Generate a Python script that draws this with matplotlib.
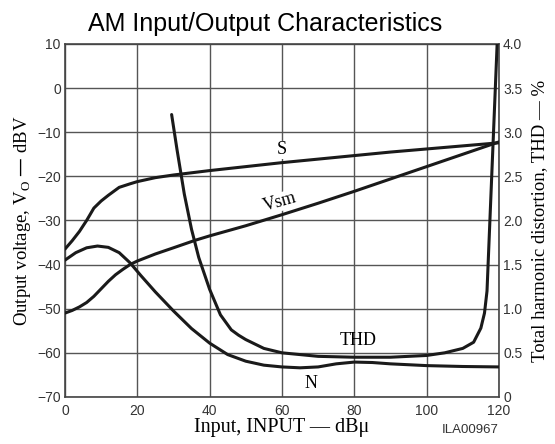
import numpy as np
import matplotlib
matplotlib.use("Agg")
import matplotlib.pyplot as plt

# Output curves, left axis (dBV)
s_x = [0, 2, 4, 6, 8, 10, 12, 15, 18, 20, 25, 30, 35, 40, 50, 60, 70, 80, 90, 100, 110, 120]
s_y = [-36.5, -34.6, -32.5, -30.0, -27.2, -25.6, -24.3, -22.5, -21.7, -21.2, -20.3, -19.7,
       -19.2, -18.7, -17.8, -16.9, -16.1, -15.3, -14.5, -13.8, -13.1, -12.4]

vsm_x = [0, 2, 4, 6, 8, 10, 12, 14, 16, 18, 20, 25, 30, 36, 40, 50, 60, 70, 80, 90, 100, 110, 120]
vsm_y = [-51.0, -50.4, -49.6, -48.6, -47.2, -45.5, -43.8, -42.3, -41.1, -40.0, -39.2, -37.6,
         -36.2, -34.5, -33.5, -31.2, -28.7, -26.1, -23.4, -20.6, -17.8, -15.0, -12.2]

n_x = [0, 3, 6, 9, 12, 15, 18, 21, 25, 30, 35, 40, 45, 50, 55, 60, 65, 70, 75, 80, 85, 90,
       100, 110, 120]
n_y = [-39.0, -37.3, -36.2, -35.8, -36.1, -37.3, -39.6, -42.5, -46.2, -50.5, -54.5, -57.8,
       -60.4, -61.9, -62.8, -63.2, -63.4, -63.2, -62.5, -62.1, -62.2, -62.5, -62.9, -63.1, -63.2]

# THD, right axis (%)
thd_x = [29.5, 31, 33, 35, 37, 40, 43, 46, 48, 50, 55, 60, 70, 80, 90, 100, 105, 110, 113,
         115, 116, 116.7, 117.5, 118.5, 119.5]
thd_y = [3.2, 2.8, 2.3, 1.9, 1.58, 1.22, 0.93, 0.76, 0.70, 0.65, 0.55, 0.50, 0.46, 0.45, 0.45,
         0.47, 0.50, 0.55, 0.62, 0.78, 0.95, 1.2, 2.0, 3.0, 4.0]

x_ticks = [0, 20, 40, 60, 80, 100, 120]
left_ticks = [10, 0, -10, -20, -30, -40, -50, -60, -70]
right_ticks = [0, 0.5, 1.0, 1.5, 2.0, 2.5, 3.0, 3.5, 4.0]
right_labels = ["0", "0.5", "1.0", "1.5", "2.0", "2.5", "3.0", "3.5", "4.0"]

sans = "Liberation Sans"
serif = "Liberation Serif"
ink = "#1a1a1a"

fig = plt.figure(figsize=(5.55, 4.44), dpi=100)
ax = fig.add_axes([0.117, 0.106, 0.782, 0.795])

ax.set_xlim(0, 120)
ax.set_ylim(-70, 10)
ax.set_xticks(x_ticks)
ax.set_yticks(left_ticks)
ax.set_yticklabels([str(v).replace("-", "\u2212") for v in left_ticks])
ax.tick_params(length=0, labelsize=10, colors="#333333", pad=3)
ax.tick_params(axis="x", pad=5)
for lab in ax.get_xticklabels() + ax.get_yticklabels():
    lab.set_fontfamily(sans)
ax.grid(True, color="#555555", lw=1.0)
ax.set_axisbelow(True)
for sp in ax.spines.values():
    sp.set_color("#444444")
    sp.set_linewidth(1.2)

kw = dict(color=ink, lw=2.2, solid_joinstyle="round", solid_capstyle="round", zorder=3)
ax.plot(s_x, s_y, **kw)
ax.plot(vsm_x, vsm_y, **kw)
ax.plot(n_x, n_y, **kw)

ax2 = ax.twinx()
ax2.set_ylim(0, 4.0)
ax2.set_yticks(right_ticks)
ax2.set_yticklabels(right_labels)
ax2.tick_params(length=0, labelsize=10, colors="#333333", pad=3)
for lab in ax2.get_yticklabels():
    lab.set_fontfamily(sans)
ax2.plot(thd_x, thd_y, **kw)
for sp in ax2.spines.values():
    sp.set_visible(False)

box = dict(facecolor="white", edgecolor="none", pad=0.5)
ax.text(60, -14.0, "S", family=serif, fontsize=13, ha="center", va="center", bbox=box, zorder=4)
ax.text(59.5, -25.8, "Vsm", family=serif, fontsize=13, ha="center", va="center",
        rotation=16, bbox=box, zorder=4)
ax.text(81, -57.3, "THD", family=serif, fontsize=13, ha="center", va="center", zorder=4)
ax.text(68, -67, "N", family=serif, fontsize=13, ha="center", va="center", zorder=4)

fig.text(0.477, 0.918, "AM Input/Output Characteristics", family=sans, fontsize=18,
         ha="center", va="bottom")
ax.set_xlabel("Input, INPUT \u2014 dB\u03bc", family=serif, fontsize=14.5, labelpad=0)
ax.set_ylabel("Output voltage, V$_\\mathregular{O}$ \u2014 dBV", family=serif, fontsize=13.5, labelpad=3)
ax2.set_ylabel("Total harmonic distortion, THD \u2014 %", family=serif, fontsize=13.5, labelpad=6)

fig.text(0.847, 0.018, "ILA00967", family=sans, fontsize=9.5, ha="center", va="bottom",
         color="#333333")

fig.savefig("out.png", dpi=100)
